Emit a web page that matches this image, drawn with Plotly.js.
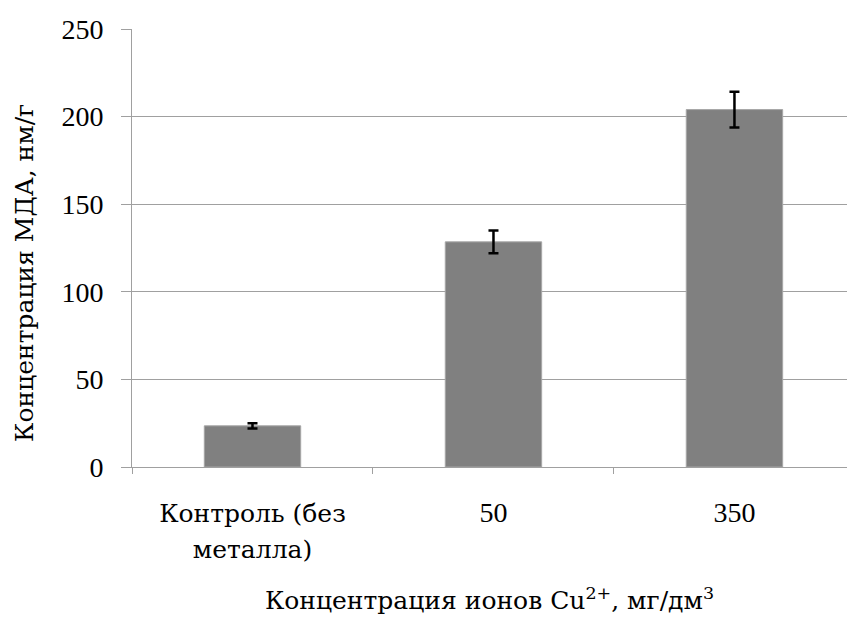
<!DOCTYPE html>
<html>
<head>
<meta charset="utf-8">
<script src="https://cdn.plot.ly/plotly-3.0.1.min.js"></script>
<style>html,body{margin:0;padding:0;overflow:hidden;background:#fff;}</style>
</head>
<body>
<div id="chart" style="width:847px;height:617px;"></div>
<script>
const categories = ["<span style=\"font-family:'DejaVu Serif';font-size:25px\">Контроль (без<br>металла)</span>", "50", "350"];
const values = [23.5, 128.5, 204];
const errors = [1.5, 6.5, 10.2];
const yTicks = [0, 50, 100, 150, 200, 250];
const xTitle = "Концентрация ионов Cu<sup>2+</sup>, мг/дм<sup>3</sup>";
const yTitle = "Концентрация МДА, нм/г";

const FONT = "Liberation Serif";
const FONT_CYR = "DejaVu Serif";

Plotly.newPlot("chart", [{
  type: "bar",
  x: categories,
  y: values,
  width: 0.4,
  marker: {color: "#808080", line: {color: "#a6a6a6", width: 1}},
  error_y: {type: "data", array: errors, visible: true, color: "#000000", thickness: 2.5, width: 5}
}], {
  width: 847, height: 617,
  margin: {l: 132, r: 0, t: 29, b: 150, pad: 0},
  paper_bgcolor: "#ffffff", plot_bgcolor: "#ffffff",
  showlegend: false,
  font: {family: FONT, size: 28, color: "#000000"},
  xaxis: {
    type: "category",
    range: [-0.5, 2.467],
    showline: true, linecolor: "#a0a0a0", linewidth: 1,
    ticks: "outside", tickson: "boundaries", ticklen: 6, tickcolor: "#a0a0a0", tickwidth: 1,
    showgrid: false, zeroline: false,
    tickfont: {family: FONT, size: 28, color: "#000"},
    ticklabelstandoff: 20,
    title: {text: xTitle, font: {family: FONT_CYR, size: 25, color: "#000"}, standoff: 28}
  },
  yaxis: {
    range: [0, 250],
    tickvals: yTicks,
    showline: true, linecolor: "#a0a0a0", linewidth: 1,
    ticks: "outside", ticklen: 10, tickcolor: "#a0a0a0", tickwidth: 1,
    showgrid: true, gridcolor: "#a0a0a0", gridwidth: 1,
    zeroline: false,
    tickfont: {family: FONT, size: 28, color: "#000"},
    ticklabelstandoff: 12
  },
  annotations: [{
    text: yTitle,
    xref: "paper", yref: "paper",
    x: (25 - 132) / 715, y: 0.443,
    xanchor: "center", yanchor: "middle",
    textangle: -90, showarrow: false,
    font: {family: FONT_CYR, size: 25, color: "#000"}
  }]
}, {displayModeBar: false, staticPlot: true});
</script>
</body>
</html>
